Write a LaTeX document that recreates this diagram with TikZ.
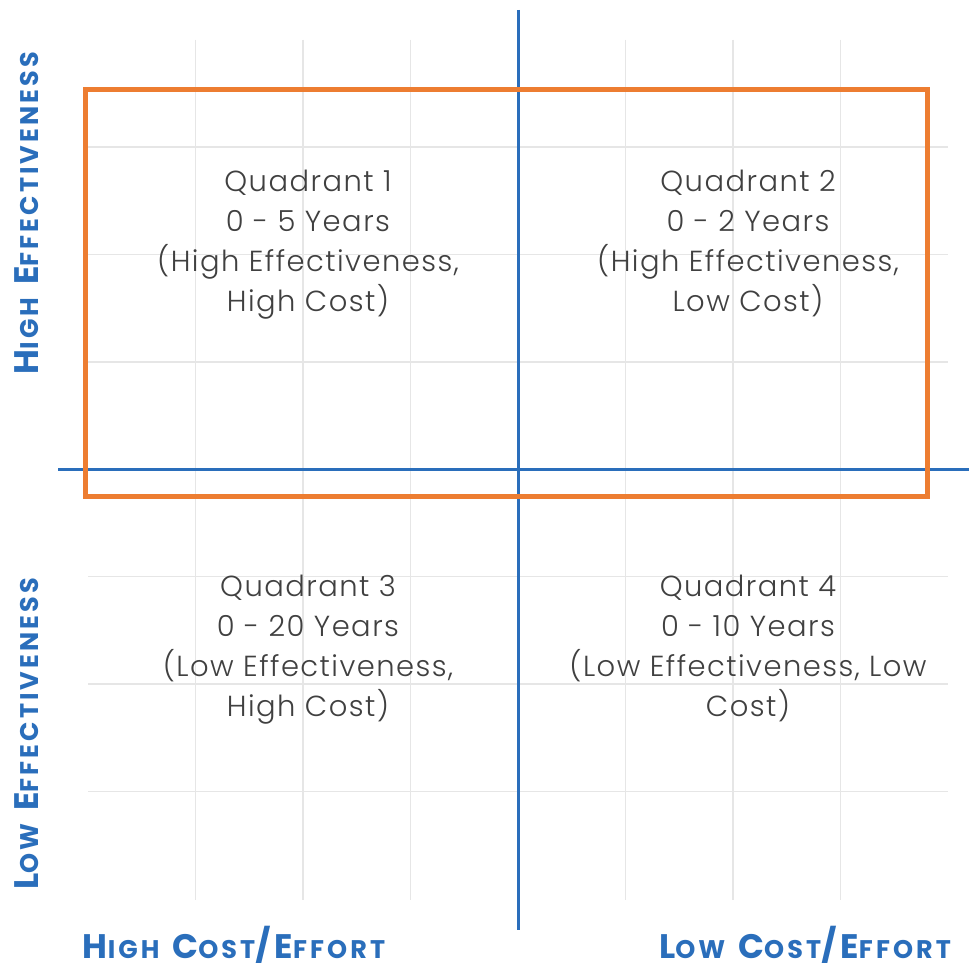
\documentclass[tikz,border=0pt]{standalone}
\usepackage{fontspec}
\setmainfont{Poppins}[UprightFont=* Light, BoldFont=* Bold]
\usepackage{tikz}
\usetikzlibrary{positioning}
\definecolor{axisblue}{HTML}{2A6EBB}
\definecolor{boxorange}{HTML}{ED7D31}
\definecolor{gridgray}{HTML}{E6E6E6}
\definecolor{textgray}{HTML}{404040}
\newcommand\axword[2]{{\fontsize{34}{34}\selectfont #1}{\fontsize{25.5}{25.5}\selectfont #2}}
\newcommand\axgap{\hspace{13pt}}
\tikzset{
  gridline/.style={draw=gridgray, line width=1.6pt},
  axisline/.style={draw=axisblue, line width=3pt},
  focusbox/.style={draw=boxorange, line width=5pt},
  quadtext/.style={text=textgray, align=center, inner sep=0pt, anchor=north,
    font=\addfontfeatures{LetterSpace=5}\fontsize{29}{40}\selectfont},
  axislabel/.style={text=axisblue, inner sep=0pt, text depth=0pt, anchor=base,
    font=\bfseries\addfontfeatures{LetterSpace=12}}
}
\begin{document}
\begin{tikzpicture}[x=1pt, y=-1pt]
  \useasboundingbox[fill=white] (0,0) rectangle (969,963);
  % light grid
  \foreach \gx in {195.5,303,410.5,625.5,733,840.5}
    \draw[gridline] (\gx,40) -- (\gx,900);
  \foreach \gy in {147,254.4,361.8,576.6,684,791.4}
    \draw[gridline] (88,\gy) -- (948,\gy);
  % axes
  \coordinate (xl) at (58,469);
  \coordinate (xr) at (969,469);
  \coordinate (yt) at (518,10);
  \coordinate (yb) at (518,930);
  \draw[axisline] (xl) -- (xr);
  \draw[axisline] (yt) -- (yb);
  % highlighted region
  \draw[focusbox] (85.5,89.5) rectangle (927.5,496);
  % quadrant texts
  \node[quadtext] (q1) at (308,170) {Quadrant 1\\0 - 5 Years\\(High Effectiveness,\\High Cost)};
  \node[quadtext] (q2) at (748,170) {Quadrant 2\\0 - 2 Years\\(High Effectiveness,\\Low Cost)};
  \node[quadtext] (q3) at (308,575) {Quadrant 3\\0 - 20 Years\\(Low Effectiveness,\\High Cost)};
  \node[quadtext] (q4) at (748,575) {Quadrant 4\\0 - 10 Years\\(Low Effectiveness, Low\\Cost)};
  % axis labels
  \node[axislabel, rotate=90] (hieff) at (38,213) {\axword{H}{IGH}\axgap\axword{E}{FFECTIVENESS}};
  \node[axislabel, rotate=90] (loeff) at (38,734) {\axword{L}{OW}\axgap\axword{E}{FFECTIVENESS}};
  \node[axislabel] (hicost) at (234,958) {\axword{H}{IGH}\axgap\axword{C}{OST}{\fontsize{34}{34}\selectfont/}\axword{E}{FFORT}};
  \node[axislabel] (locost) at (805,958) {\axword{L}{OW}\axgap\axword{C}{OST}{\fontsize{34}{34}\selectfont/}\axword{E}{FFORT}};
\end{tikzpicture}
\end{document}
